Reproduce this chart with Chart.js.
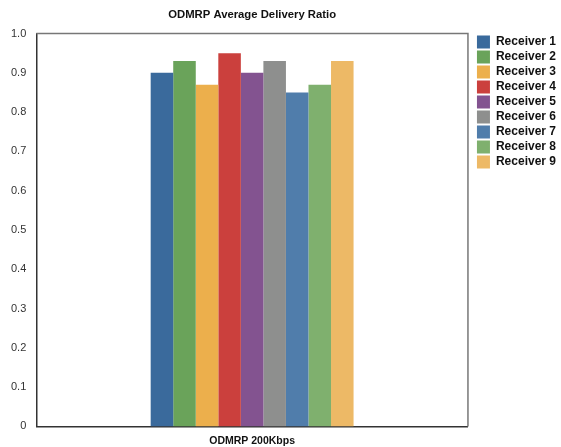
<!DOCTYPE html>
<html>
<head>
<meta charset="utf-8">
<script src="https://cdn.jsdelivr.net/npm/chart.js@4"></script>
<style>
  html, body { margin: 0; padding: 0; background: #fff; }
  #wrap { width: 561px; height: 447px; }
</style>
</head>
<body>
<div id="wrap"><canvas id="myChart"></canvas></div>
<script>
// data
const categories = ['ODMRP 200Kbps']
const receivers = ['Receiver 1', 'Receiver 2', 'Receiver 3', 'Receiver 4', 'Receiver 5',
  'Receiver 6', 'Receiver 7', 'Receiver 8', 'Receiver 9']
const ratios = [0.90, 0.93, 0.87, 0.95, 0.90, 0.93, 0.85, 0.87, 0.93]
const yTicks = ['0', '0.1', '0.2', '0.3', '0.4', '0.5', '0.6', '0.7', '0.8', '0.9', '1.0']

const colors = ['#3a6a9c', '#6aa35a', '#ecaf4c', '#cb403d', '#835390',
  '#8e8f8e', '#507dab', '#7fb06e', '#edb966']

const font = '"Liberation Sans", Helvetica, Arial, sans-serif'

// grey frame on top and right of the plot, and nudge the legend away from it
const frame = {
  id: 'frame',
  afterLayout(chart) {
    chart.legend.left += 7
    chart.legend.right += 7
  },
  afterDraw(chart) {
    const { ctx, chartArea: a } = chart
    ctx.save()
    ctx.strokeStyle = '#777'
    ctx.lineWidth = 1.5
    ctx.beginPath()
    ctx.moveTo(a.left, a.top)
    ctx.lineTo(a.right, a.top)
    ctx.lineTo(a.right, a.bottom)
    ctx.stroke()
    ctx.restore()
  }
}

const ctx = document.getElementById('myChart').getContext('2d')

const myChart = new Chart(ctx, {
  type: 'bar',
  data: {
    labels: categories,
    datasets: receivers.map((name, i) => ({
      label: name,
      data: [ratios[i]],
      backgroundColor: colors[i],
      borderWidth: 0
    }))
  },
  options: {
    responsive: true,
    maintainAspectRatio: false,
    animation: false,
    layout: { padding: { left: 4, right: 2, top: 0, bottom: -8 } },
    datasets: { bar: { categoryPercentage: 0.47, barPercentage: 1 } },
    plugins: {
      title: {
        display: true,
        fullSize: false,
        text: 'ODMRP Average Delivery Ratio',
        color: '#111',
        font: { family: font, size: 11.3, weight: 'bold' },
        padding: { top: 8, bottom: 12 }
      },
      legend: {
        position: 'right',
        align: 'start',
        fullSize: false,
        labels: {
          boxWidth: 13,
          boxHeight: 13,
          padding: 2,
          color: '#111',
          font: { family: font, size: 12, weight: 'bold' }
        }
      },
      tooltip: { enabled: false }
    },
    scales: {
      x: {
        grid: { display: false, drawTicks: false },
        border: { color: '#333', width: 1.5 },
        ticks: {
          color: '#111',
          padding: 8,
          font: { family: font, size: 10.5, weight: 'bold' }
        }
      },
      y: {
        min: 0,
        max: 1,
        grid: { display: false, drawTicks: true, tickLength: 3, tickColor: '#333' },
        border: { color: '#333', width: 1.5 },
        ticks: {
          stepSize: 0.1,
          color: '#333',
          padding: 7,
          font: { family: font, size: 11 },
          callback: (v, i) => yTicks[i]
        }
      }
    }
  },
  plugins: [frame]
})
</script>
</body>
</html>
